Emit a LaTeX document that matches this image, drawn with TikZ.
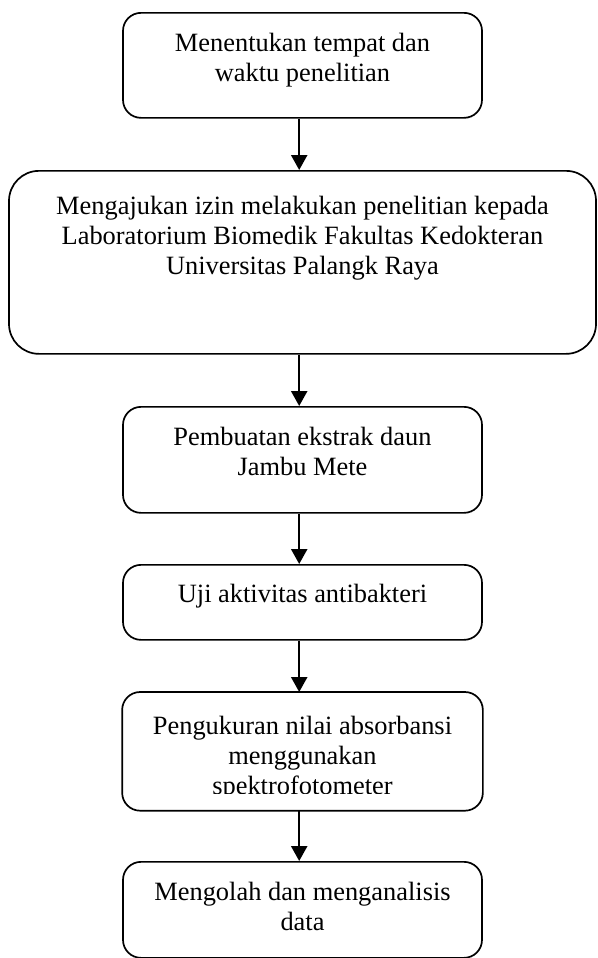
\documentclass[tikz,border=0pt]{standalone}
\usepackage{fontspec}
\setmainfont{Liberation Serif}
\usetikzlibrary{arrows.meta}

\begin{document}
\begin{tikzpicture}[x=1pt, y=-1pt,
	box/.style={draw, line width=0.85pt, rounded corners=9pt, anchor=north, inner sep=0pt, align=center,
		font=\fontsize{13.2}{15}\selectfont},
	arrow/.style={line width=1.2pt, -{Triangle[length=7.5pt,width=8pt]}}]
	\useasboundingbox (0,0) rectangle (299,479);
	\coordinate (axis) at (149.6,0);

	\node[box, minimum width=179.5pt, minimum height=52.5pt, text height=34.5pt, text depth=18pt] (tempat) at (151.25,6)
		{Menentukan tempat dan\\waktu penelitian};
	\node[box, rounded corners=15pt, minimum width=293.5pt, minimum height=91.5pt, text height=52pt, text depth=39.5pt] (izin) at (151.25,85)
		{Mengajukan izin melakukan penelitian kepada\\Laboratorium Biomedik Fakultas Kedokteran\\Universitas Palangk Raya};
	\node[box, minimum width=179.5pt, minimum height=53pt, text height=34.5pt, text depth=18.5pt] (ekstrak) at (151.25,203)
		{Pembuatan ekstrak daun\\Jambu Mete};
	\node[box, minimum width=179.5pt, minimum height=37.5pt, text height=19pt, text depth=18.5pt] (uji) at (151.25,282)
		{Uji aktivitas antibakteri};
	% last line is cut off by the box
	\begin{scope}
		\clip (0,346) rectangle (299,396.5);
		\node[box, draw=none, minimum width=179.5pt, minimum height=58.5pt, text height=51pt, text depth=7.5pt] (ukur) at (151.25,346)
			{Pengukuran nilai absorbansi\\menggunakan\\spektrofotometer};
	\end{scope}
	\draw[line width=0.85pt, rounded corners=9pt] (ukur.north west) rectangle (ukur.south east);
	\node[box, minimum width=179.5pt, minimum height=48pt, text height=34.5pt, text depth=13.5pt] (olah) at (151.25,430.5)
		{Mengolah dan menganalisis\\data};

	\draw[arrow] (tempat.south -| axis) -- (izin.north -| axis);
	\draw[arrow] (izin.south -| axis) -- (ekstrak.north -| axis);
	\draw[arrow] (ekstrak.south -| axis) -- (uji.north -| axis);
	\draw[arrow] (uji.south -| axis) -- (ukur.north -| axis);
	\draw[arrow] (ukur.south -| axis) -- (olah.north -| axis);
\end{tikzpicture}
\end{document}
